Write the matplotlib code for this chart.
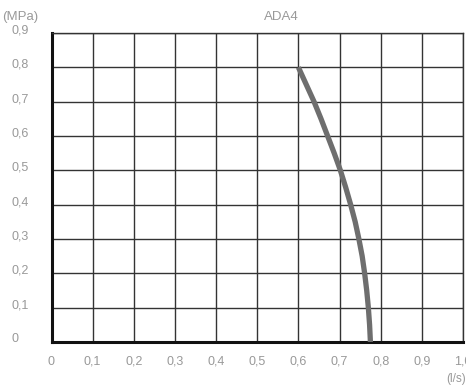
import matplotlib
matplotlib.use("Agg")
import matplotlib.pyplot as plt
import matplotlib.transforms as mtransforms

# Data
flow = [0.600, 0.619, 0.638, 0.655, 0.671, 0.687, 0.702, 0.715, 0.727,
        0.738, 0.747, 0.755, 0.761, 0.766, 0.770, 0.773, 0.775]          # l/s
pressure = [0.80, 0.75, 0.70, 0.65, 0.60, 0.55, 0.50, 0.45, 0.40,
            0.35, 0.30, 0.25, 0.20, 0.15, 0.10, 0.05, 0.00]              # MPa
x_ticks = [0, 0.1, 0.2, 0.3, 0.4, 0.5, 0.6, 0.7, 0.8, 0.9, 1.0]
x_labels = ["0", "0,1", "0,2", "0,3", "0,4", "0,5", "0,6", "0,7", "0,8", "0,9", "1,0"]
y_ticks = [0, 0.1, 0.2, 0.3, 0.4, 0.5, 0.6, 0.7, 0.8, 0.9]
y_labels = ["0", "0,1", "0,2", "0,3", "0,4", "0,5", "0,6", "0,7", "0,8", "0,9"]
title = "ADA4"

plt.rcParams['font.family'] = ['Liberation Sans', 'DejaVu Sans']
W, H = 466, 385
fig = plt.figure(figsize=(W / 100, H / 100), dpi=100)
ax = fig.add_axes([51.5 / W, (H - 342) / H, (463 - 51.5) / W, (342 - 33) / H])

ax.plot(flow, pressure, color="#6e6e6e", lw=3.8, solid_capstyle="butt",
        solid_joinstyle="round", zorder=3)

ax.set_xlim(0, 1.0)
ax.set_ylim(0, 0.9)
ax.set_xticks(x_ticks)
ax.set_yticks(y_ticks)
ax.set_xticklabels(x_labels)
ax.set_yticklabels(y_labels, ha="left")
tc = "#999999"
ax.tick_params(axis="both", length=0, labelsize=9, labelcolor=tc)
ax.tick_params(axis="x", pad=10)
ax.tick_params(axis="y", pad=29)
shift = mtransforms.ScaledTranslation(0, 4 / 100, fig.dpi_scale_trans)
for lab in ax.get_yticklabels():
    lab.set_transform(lab.get_transform() + shift)
ax.grid(True, color="#333333", lw=1.0, zorder=1)
ax.set_axisbelow(True)

for side in ["top", "right"]:
    ax.spines[side].set_color("#333333")
    ax.spines[side].set_linewidth(1.0)
for side in ["left", "bottom"]:
    ax.spines[side].set_color("#111111")
    ax.spines[side].set_linewidth(2.2)

fig.text(2 / W, 1 - 17 / H, "(MPa)", fontsize=9.5, color=tc, va="center", ha="left")
fig.text(281 / W, 1 - 17 / H, title, fontsize=9.5, color=tc, va="center", ha="center")
fig.text(466 / W, 1 - 379 / H, "(l/s)", fontsize=8.5, color=tc, va="center", ha="right")

fig.savefig("out.png", dpi=100)
